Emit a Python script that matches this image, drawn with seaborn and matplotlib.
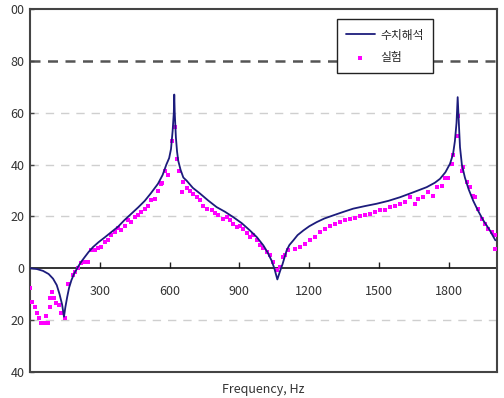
import matplotlib
matplotlib.use("Agg")
import matplotlib.pyplot as plt
import seaborn as sns
import pandas as pd

# ---- data ----
line_freq = [0, 30, 56, 80, 99, 115, 127, 138, 146, 152, 160, 168, 178, 190, 206,
             220, 235, 252, 271, 295, 321, 350, 378, 405, 435, 465, 493, 520, 550,
             570, 586, 598, 606, 613, 618, 620, 622, 627, 632, 637, 647, 659, 673,
             700, 731, 765, 802, 838, 874, 910, 945, 975, 1003, 1020, 1038, 1050,
             1063, 1075, 1085, 1095, 1103, 1115, 1132, 1150, 1175, 1200, 1232, 1265,
             1303, 1345, 1389, 1440, 1490, 1540, 1590, 1647, 1705, 1740, 1762, 1785,
             1805, 1818, 1826, 1833, 1838, 1843, 1848, 1856, 1869, 1885, 1905, 1925,
             1948, 1975, 2000]
line_val = [0, -0.3, -1, -2.2, -4, -6.5, -10, -14, -18.7, -15, -11, -7.5, -4.6, -2,
            0.5, 2.5, 4.3, 6.3, 8.2, 10.1, 11.9, 14, 16, 18.5, 21, 23.5, 26, 29, 32.6,
            36, 40, 42.5, 46, 53, 60, 67, 60, 50.5, 45, 41.5, 38, 35, 33.8,
            31, 28.8, 26.2, 23.6, 21.8, 19.7, 17.4, 14.6, 12, 8.8, 6.3, 3, 0,
            -4.3, -1, 1.5, 4.5, 6.9, 9, 10.8, 12.8, 14.6, 16.2, 17.8, 19.2,
            20.4, 21.7, 23, 24, 24.9, 26, 27.4, 29.3, 31.3, 33, 34.5, 37,
            40.3, 44, 49, 56, 66, 56, 46.7, 40, 35, 30.5, 26, 22.3,
            18.5, 14.8, 10.8]

exp_freq = [0, 9, 21, 30, 39, 47, 60, 69, 77, 86, 85, 95, 103, 113, 123, 135, 149,
            163, 185, 192, 206, 220, 235, 249, 263, 278, 292, 305, 321, 335, 349, 364,
            378, 392, 407, 421, 435, 450, 464, 478, 493, 507, 521, 536, 550, 564, 567,
            580, 594, 609, 623, 630, 640, 652, 659, 673, 688, 702, 716, 731, 743, 759,
            781, 795, 809, 831, 845, 859, 874, 888, 902, 917, 931, 945, 959, 974, 988,
            1003, 1017, 1031, 1046, 1060, 1074, 1089, 1096, 1110, 1139, 1160, 1182,
            1203, 1225, 1246, 1268, 1289, 1311, 1332, 1354, 1375, 1397, 1418, 1440,
            1461, 1483, 1504, 1526, 1547, 1569, 1590, 1612, 1633, 1655, 1669, 1690,
            1712, 1733, 1748, 1769, 1783, 1798, 1812, 1819, 1834, 1841, 1855, 1862,
            1877, 1891, 1905, 1912, 1927, 1941, 1955, 1970, 1984, 1998, 2000]
exp_val = [-7.7, -13, -15, -17.3, -19, -21, -21, -18.5, -21, -15, -11.5, -9, -11.5,
           -13.5, -14.3, -17.4, -19.2, -5.9, -2.7, -1.4, 0, 1.9, 2.4, 2.4, 6.9, 6.9,
           7.7, 8.2, 10, 10.8, 12.7, 14, 15.4, 14.6, 16.5, 18.5, 17.8, 19.7, 20.4,
           21.7, 23, 24.2, 26.2, 26.8, 30, 32.6, 33, 37.7, 35.8, 49, 54.4, 42.2, 37.7,
           29.3, 33.2, 31, 30, 28.7, 27.5, 26.2, 24.2, 23, 22.3, 21.5, 20.4, 19.1,
           19.8, 18.5, 17, 15.9, 16.5, 15.3, 13.5, 12, 12.8, 10.8, 8.8, 8, 6.3, 5,
           2.4, -0.8, 0.5, 4.3, 5, 6.9, 7.6, 8.2, 9.5, 10.8, 12, 14, 15.3, 16.2,
           17.2, 17.8, 18.5, 19.1, 19.5, 20, 20.4, 21, 21.7, 22.3, 22.3, 23.6, 24.2,
           24.9, 25.5, 27.4, 24.9, 26.8, 27.4, 29.3, 28, 31.3, 31.9, 35, 35, 40.3,
           43.5, 51.2, 58.8, 37.7, 39, 33.2, 31.3, 28, 27.4, 23, 19.1, 17.2, 15.3,
           14, 12.7, 7.6]

x_ticks = [300, 600, 900, 1200, 1500, 1800]
x_tick_labels = ["300", "600", "900", "1200", "1500", "1800"]
y_ticks = [-40, -20, 0, 20, 40, 60, 80, 100]
y_tick_labels = ["40", "20", "0", "20", "40", "60", "80", "00"]
series_names = ["수치해석", "실험"]
x_label = "Frequency, Hz"

# ---- style ----
sns.set_theme(style="white")
plt.rcParams["font.family"] = ["Noto Sans CJK KR", "DejaVu Sans"]

fig = plt.figure(figsize=(5.04, 3.98), dpi=100)
ax = fig.add_axes([30 / 504, 26 / 398, 467 / 504, 363 / 398])

line_df = pd.DataFrame({"f": line_freq, "v": line_val})
exp_df = pd.DataFrame({"f": exp_freq, "v": exp_val})

# grid lines
for yv in [60, 40, 20, -20]:
    ax.axhline(yv, color="#cfcfcf", lw=1.0, ls=(0, (6, 5)), zorder=0)
ax.axhline(80, color="#555555", lw=1.8, ls=(0, (4, 3)), zorder=0)

sns.scatterplot(data=exp_df, x="f", y="v", ax=ax, color="#ff00ff", s=7,
                marker="s", linewidth=0, label=series_names[1], zorder=3)
sns.lineplot(data=line_df, x="f", y="v", ax=ax, color="#1c1c7c", lw=1.3,
             label=series_names[0], zorder=4, sort=False)

ax.set_xlim(0, 2007)
ax.set_ylim(-40, 100)

ax.set_yticks(y_ticks)
ax.set_yticklabels(y_tick_labels, fontsize=9, color="#333333")
ax.tick_params(axis="y", direction="in", length=3, width=1, color="#444444", pad=4, left=True)
ax.set_xticks([])
ax.set_xlabel(x_label, fontsize=9, color="#333333", labelpad=8)
ax.set_ylabel("")

for s in ax.spines.values():
    s.set_color("#444444")
    s.set_linewidth(1.5)

# zero axis with ticks and labels
sec = ax.secondary_xaxis(40 / 140)
sec.set_xticks(x_ticks)
sec.set_xticklabels(x_tick_labels, fontsize=9, color="#333333")
sec.tick_params(direction="in", length=4, width=1, color="#222222", pad=12)
sec.spines["bottom"].set_color("#111111")
sec.spines["bottom"].set_linewidth(1.2)

# legend
handles, labels = ax.get_legend_handles_labels()
order = [labels.index(series_names[0]), labels.index(series_names[1])]
leg = ax.legend([handles[i] for i in order], [labels[i] for i in order],
                loc="upper left", bbox_to_anchor=(0.657, 0.972), fontsize=8.5,
                frameon=True, fancybox=False, framealpha=1, edgecolor="#222222",
                borderpad=0.8, handlelength=2.4, labelspacing=0.8, markerscale=1.0,
                handletextpad=0.5, borderaxespad=0)
leg.get_frame().set_linewidth(1.0)
leg.set_zorder(10)

fig.savefig("out.png", dpi=100)
